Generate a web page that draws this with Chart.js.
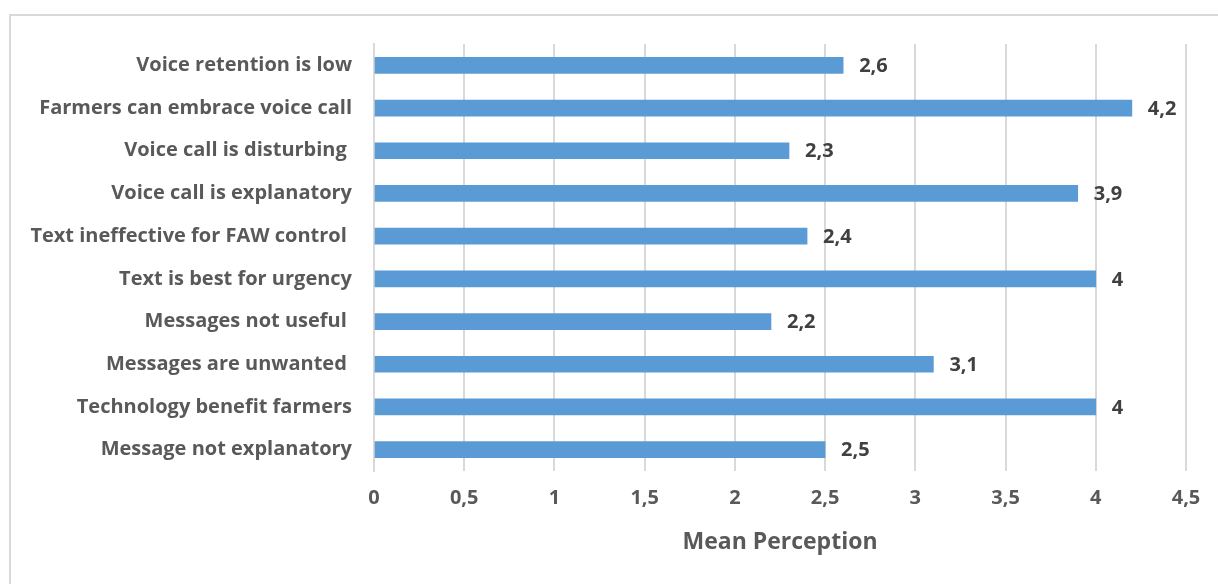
<!DOCTYPE html>
<html lang="en">
<head>
    <meta charset="UTF-8">
    <title>Mean Perception</title>
    <script src="https://cdn.jsdelivr.net/npm/chart.js@4.4.0/dist/chart.umd.min.js"></script>
    <style>
        html, body { margin: 0; padding: 0; background: #fff; }
        #wrap { position: relative; width: 1218px; height: 584px; overflow: hidden; }
        #frame { position: absolute; left: 9px; top: 14px; width: 1300px; height: 700px; border: 2px solid #d9d9d9; box-sizing: border-box; }
        #chart { position: absolute; left: 0; top: 0; }
    </style>
</head>
<body>
<div id="wrap">
    <div id="frame"></div>
    <canvas id="chart" width="1218" height="584"></canvas>
</div>
<script>
    const categories = [
        'Voice retention is low',
        'Farmers can embrace voice call',
        'Voice call is disturbing ',
        'Voice call is explanatory',
        'Text ineffective for FAW control ',
        'Text is best for urgency',
        'Messages not useful ',
        'Messages are unwanted ',
        'Technology benefit farmers',
        'Message not explanatory'
    ];
    const meanValues = [2.6, 4.2, 2.3, 3.9, 2.4, 4, 2.2, 3.1, 4, 2.5];
    const axisTitle = 'Mean Perception';

    const fontFamily = '"Open Sans", sans-serif';
    const comma = v => String(v).replace('.', ',');

    // value labels at the end of each bar
    const valueLabels = {
        id: 'valueLabels',
        afterDatasetsDraw(chart) {
            const ctx = chart.ctx;
            const meta = chart.getDatasetMeta(0);
            ctx.save();
            ctx.font = 'bold 20px ' + fontFamily;
            ctx.fillStyle = '#404040';
            ctx.textAlign = 'left';
            ctx.textBaseline = 'middle';
            meta.data.forEach((bar, i) => {
                ctx.fillText(comma(meanValues[i]), bar.x + 16, bar.y + 1);
            });
            ctx.restore();
        }
    };

    new Chart(document.getElementById('chart'), {
        type: 'bar',
        data: {
            labels: categories,
            datasets: [{
                data: meanValues,
                backgroundColor: '#5b9bd5',
                barThickness: 16
            }]
        },
        options: {
            indexAxis: 'y',
            responsive: false,
            animation: false,
            layout: { padding: { left: 0, right: 32, top: 44, bottom: 25 } },
            plugins: { legend: { display: false }, tooltip: { enabled: false } },
            scales: {
                x: {
                    min: 0,
                    max: 4.5,
                    ticks: {
                        stepSize: 0.5,
                        padding: 15,
                        color: '#595959',
                        font: { family: fontFamily, size: 20, weight: 'bold' },
                        callback: v => comma(v)
                    },
                    grid: { color: '#d9d9d9', lineWidth: 2, drawTicks: false },
                    border: { display: false },
                    title: {
                        display: true,
                        text: axisTitle,
                        color: '#595959',
                        font: { family: fontFamily, size: 23, weight: 'bold' },
                        padding: { top: 0, bottom: 3 }
                    },
                    afterFit(scale) { scale.height = 88; }
                },
                y: {
                    ticks: {
                        padding: 22,
                        color: '#595959',
                        font: { family: fontFamily, size: 20, weight: 'bold' }
                    },
                    grid: { display: false, drawTicks: false },
                    border: { display: true, color: '#d9d9d9', width: 2 },
                    afterFit(scale) { scale.width = 374; }
                }
            }
        },
        plugins: [valueLabels]
    });
</script>
</body>
</html>
